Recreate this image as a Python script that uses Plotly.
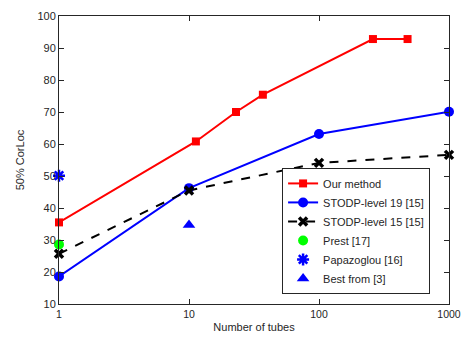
import plotly.graph_objects as go

# Data
our_x = [1, 11.3, 23, 37, 260, 480]
our_y = [35.5, 60.8, 70, 75.4, 92.8, 92.8]
l19_x = [1, 10, 100, 1000]
l19_y = [18.6, 46.2, 63.1, 70.1]
l15_x = [1, 10, 100, 1000]
l15_y = [25.7, 45.5, 54.1, 56.6]
prest_x = [1]
prest_y = [28.6]
papa_x = [1]
papa_y = [50.1]
best_x = [10]
best_y = [34.7]
xticks = [1, 10, 100, 1000]
yticks = [10, 20, 30, 40, 50, 60, 70, 80, 90, 100]

fig = go.Figure()
fig.add_trace(go.Scatter(x=our_x, y=our_y, mode="lines+markers", name="Our method",
                         line=dict(color="#ff0000", width=2), cliponaxis=False,
                         marker=dict(symbol="square", size=8, color="#ff0000")))
fig.add_trace(go.Scatter(x=l19_x, y=l19_y, mode="lines+markers", name="STODP-level 19 [15]",
                         line=dict(color="#0000ff", width=2), cliponaxis=False,
                         marker=dict(symbol="circle", size=10, color="#0000ff")))
fig.add_trace(go.Scatter(x=l15_x, y=l15_y, mode="lines+markers", name="STODP-level 15 [15]",
                         line=dict(color="#000000", width=2, dash="dash"), cliponaxis=False,
                         marker=dict(symbol="x-thin-open", size=8, color="#000000",
                                     line=dict(color="#000000", width=3.5))))
fig.add_trace(go.Scatter(x=prest_x, y=prest_y, mode="markers", name="Prest [17]", cliponaxis=False,
                         marker=dict(symbol="circle", size=10, color="#00ff00")))
fig.add_trace(go.Scatter(x=papa_x, y=papa_y, mode="markers", name="Papazoglou [16]", cliponaxis=False,
                         marker=dict(symbol="asterisk-open", size=10, color="#0000ff",
                                     line=dict(color="#0000ff", width=2.5))))
fig.add_trace(go.Scatter(x=best_x, y=best_y, mode="markers", name="Best from [3]", cliponaxis=False,
                         marker=dict(symbol="triangle-up", size=11, color="#0000ff")))

axis_common = dict(showline=True, linecolor="#262626", linewidth=1, mirror="ticks",
                   ticks="inside", ticklen=5, tickcolor="#262626", showgrid=False,
                   zeroline=False, automargin=False, ticklabeloverflow="allow")

fig.update_layout(
    width=461, height=341,
    margin=dict(l=59, r=12, t=16, b=37),
    paper_bgcolor="white", plot_bgcolor="white",
    font=dict(family="Liberation Sans, Arial, sans-serif", size=11, color="#262626"),
    xaxis=dict(type="log", range=[0, 3], tickvals=xticks, ticktext=[str(v) for v in xticks],
               tickfont=dict(size=10.5, color="#262626"),
               title=dict(text="Number of tubes", font=dict(size=11), standoff=4), **axis_common),
    yaxis=dict(range=[10, 100], tickvals=yticks, tickfont=dict(size=11, color="#262626"),
               title=dict(text="50% CorLoc", font=dict(size=11), standoff=10), **axis_common),
    legend=dict(x=0.572, y=0.035, xanchor="left", yanchor="bottom",
                bgcolor="white", bordercolor="#262626", borderwidth=1,
                font=dict(size=11, color="#262626"), tracegroupgap=0,
                itemwidth=30),
    showlegend=True,
)

fig.write_html("out.html", config={"displayModeBar": False},
               post_script="document.body.style.margin='0';")
